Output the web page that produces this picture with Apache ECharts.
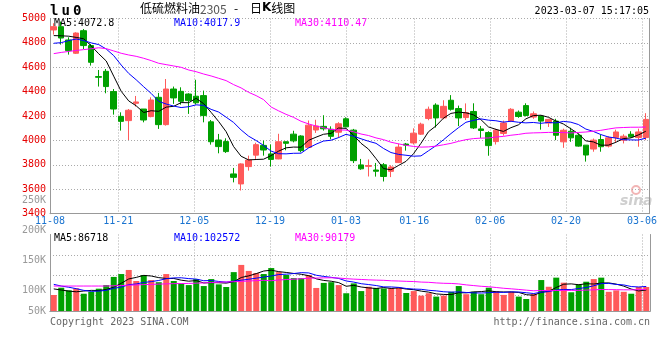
<!DOCTYPE html>
<html><head><meta charset="utf-8">
<script src="https://cdn.jsdelivr.net/npm/echarts@6/dist/echarts.min.js"></script>
<style>html,body{margin:0;padding:0;background:#fff}#c{width:660px;height:360px}</style>
</head><body><div id="c"></div>
<script>
// ---------- data ----------
const symbolCode = 'lu0';
const titleName = '低硫燃料油';
const titleCode = '2305';
const titleKind = '日K线图';
const stampText = '2023-03-07 15:17:05';
const dates = ['11-08','11-09','11-10','11-11','11-14','11-15','11-16','11-17','11-18','11-21','11-22','11-23','11-24','11-25','11-28','11-29','11-30',
'12-01','12-02','12-05','12-06','12-07','12-08','12-09','12-12','12-13','12-14','12-15','12-16','12-19','12-20','12-21','12-22','12-23','12-26','12-27','12-28','12-29','12-30',
'01-03','01-04','01-05','01-06','01-09','01-10','01-11','01-12','01-13','01-16','01-17','01-18','01-19','01-20','01-30','01-31',
'02-01','02-02','02-03','02-06','02-07','02-08','02-09','02-10','02-13','02-14','02-15','02-16','02-17','02-20','02-21','02-22','02-23','02-24','02-27','02-28',
'03-01','03-02','03-03','03-06','03-07'];
const tickLabels = ['11-08','11-21','12-05','12-19','01-03','01-16','02-06','02-20','03-06'];
const opens  = [4906,4933,4824,4715,4900,4778,4524,4567,4401,4198,4163,4305,4258,4196,4354,4130,4422,4403,4381,4363,
                4368,4153,4004,3991,3726,3644,3786,3880,3960,3890,3849,3990,4052,4037,3944,4086,4116,4092,4068,4178,
                4085,3800,3788,3758,3801,3747,3819,3971,3980,4052,4180,4290,4185,4330,4262,4188,4238,4095,4065,3991,
                4058,4160,4232,4286,4192,4200,4143,4159,3989,4076,4043,3962,3930,4008,3954,4024,4003,4051,4024,4024];
const closes = [4933,4840,4737,4881,4778,4641,4518,4442,4258,4157,4248,4316,4168,4332,4130,4422,4349,4321,4327,4309,
                4204,3990,3950,3909,3698,3808,3840,3966,3922,3845,3990,3977,3997,3917,4126,4119,4096,4034,4137,4112,
                3835,3768,3795,3748,3705,3783,3946,3962,4060,4134,4256,4185,4280,4256,4185,4229,4103,4082,3958,4085,
                4144,4256,4197,4205,4219,4159,4173,4043,4084,4022,3954,3881,4003,3949,4022,4070,4035,4030,4070,4173];
const lows   = [4868,4786,4704,4709,4750,4614,4442,4387,4212,4081,4004,4278,4149,4190,4095,4122,4300,4294,4218,4295,
                4149,3966,3895,3898,3657,3590,3753,3849,3876,3786,3846,3920,3985,3903,3939,4062,4081,4010,4022,4108,
                3815,3760,3705,3704,3664,3700,3815,3917,3967,4045,4166,4106,4174,4245,4118,4168,4094,4021,3875,3967,
                4040,4151,4186,4197,4178,4089,4111,4003,3940,3989,3949,3827,3908,3908,3943,3981,3976,4024,3949,4003];
const highs  = [4961,4975,4846,4887,4914,4791,4578,4586,4422,4231,4258,4365,4258,4354,4390,4504,4442,4436,4387,4498,
                4409,4168,4054,4018,3775,3813,3876,3982,3999,3968,4055,3990,4080,4043,4164,4170,4207,4116,4150,4190,
                4095,3849,3845,3816,3815,3797,3975,3980,4100,4146,4278,4305,4330,4372,4286,4304,4305,4119,4076,4096,
                4163,4265,4246,4305,4238,4205,4178,4178,4097,4105,4057,3962,4016,4049,4035,4089,4051,4076,4097,4224];
const volumes = [66700,97000,86000,94600,72000,80400,93000,108000,142000,154000,171000,125000,150000,129000,120000,154000,125000,114000,108000,133000,
                 104000,133000,111000,100000,162000,192000,167000,158000,154000,179000,162000,150000,137000,137000,150000,96000,117000,120000,108000,74000,
                 115000,83000,101000,96000,94000,95000,97000,75000,83000,64000,74000,60000,64000,80000,104000,70000,80000,70000,97000,83000,
                 67000,80000,60000,50000,71000,129000,101000,139000,118000,78000,111000,122000,133000,139000,80000,86000,80000,72000,100000,100000];
// moving-average values before enough history
const ma5Head  = [4860,4858,4855,4845];
const ma10Head = [4797,4802,4819,4832,4819,4800,4786,4750,4696];
const ma30Head = [4712,4722,4730,4738,4745,4752,4760,4753,4734,4715,4701,4690,4674,4655,4633,4622,4611,4600,4578,4564,4545,4529,4510,4491,4458,4431,4395,4368,4335];
const vma5Head  = [92000,87500,83000,80000];
const vma10Head = [111000,104000,99000,93000,86000,82000,83000,86000,94600];
const vma30Head = [104000,104000,104000,104000,104000,104000,104000,104000,105000,106000,107500,108500,110000,111000,112000,113000,114000,114500,115000,116000,117000,118500,120000,121000,122000,123500,125000,126500,128000];
const priceLegend = ['MA5:4072.8','MA10:4017.9','MA30:4110.47'];
const volLegend = ['MA5:86718','MA10:102572','MA30:90179'];
const volLabelValues = [65000,100000,150000,200000,250000];
const volTickLabels = ['50K','100K','150K','200K','250K'];
const copyText = 'Copyright 2023 SINA.COM';
const urlText = 'http://finance.sina.com.cn';
const watermark = 'sina';

// ---------- helpers ----------
function movingAvg(arr, n, head){
  return arr.map((_, i) => {
    if (i < n - 1) return head[i];
    let s = 0; for (let j = i - n + 1; j <= i; j++) s += arr[j];
    return +(s / n).toFixed(2);
  });
}
const UP = '#ff5a5a', DOWN = '#00a000';
const MONO = 'DejaVu Sans Mono';
const isTick = (idx, val) => tickLabels.indexOf(val) >= 0;
const dotted = {color:'#aaa', type:[1,2], width:1};
const ohlc = dates.map((d,i) => [opens[i], closes[i], lows[i], highs[i]]);
const volData = volumes.map((v,i) => ({value:v, itemStyle:{color: closes[i] >= opens[i] ? UP : DOWN}}));
// volume pane: 76.5px tall, 100K ≈ 24px
const volMax = 318750;
const volGridValues = [65400, 148750, 232100];

const chart = echarts.init(document.getElementById('c'), null, {renderer:'canvas'});
const legendText = (arr, top) => [54,174,295].map((x,k) => ({type:'text', left:x, top:top,
  style:{text:arr[k], fill:['#000','#0000ff','#ff00ff'][k], font:'10px "'+MONO+'"'}}));
const lineS = (data, color, xi, yi) => ({type:'line', xAxisIndex:xi, yAxisIndex:yi, data:data, symbol:'none', smooth:false,
  lineStyle:{color:color, width:1}, emphasis:{disabled:true}});

chart.setOption({
  animation:false,
  backgroundColor:'#fff',
  grid:[
    {left:50, right:10, top:18.5, height:195.2},
    {left:50, right:10, top:234.5, height:76.5},
    {left:50, right:10, top:200, height:111}
  ],
  xAxis:[
    {gridIndex:0, type:'category', data:dates, boundaryGap:true, show:false, position:'top'},
    {gridIndex:0, type:'category', data:dates, boundaryGap:false, position:'bottom',
      axisLine:{show:true, lineStyle:{color:'#999'}}, axisTick:{show:false},
      axisLabel:{interval:isTick, color:'#1a74d0', fontFamily:MONO, fontSize:10, margin:3},
      splitLine:{show:true, interval:isTick, lineStyle:dotted}},
    {gridIndex:1, type:'category', data:dates, boundaryGap:true, position:'top',
      axisLine:{show:true, lineStyle:{color:'#999'}}, axisTick:{show:false}, axisLabel:{show:false}, splitLine:{show:false}},
    {gridIndex:1, type:'category', data:dates, boundaryGap:false, position:'bottom',
      axisLine:{show:true, lineStyle:{color:'#999'}}, axisTick:{show:false}, axisLabel:{show:false},
      splitLine:{show:true, interval:isTick, lineStyle:dotted}},
    {gridIndex:2, type:'category', data:dates, show:false}
  ],
  yAxis:[
    {gridIndex:0, type:'value', min:3400, max:5000, interval:200,
      axisLine:{show:true, lineStyle:{color:'#999'}}, axisTick:{show:false},
      axisLabel:{color:'#e60000', fontFamily:MONO, fontSize:10, margin:4, formatter:v => String(v)},
      splitLine:{show:true, lineStyle:dotted}},
    {gridIndex:0, type:'value', position:'right', min:3400, max:5000,
      axisLine:{show:true, lineStyle:{color:'#999'}}, axisTick:{show:false}, axisLabel:{show:false}, splitLine:{show:false}},
    {gridIndex:1, type:'value', min:0, max:volMax,
      axisLine:{show:true, lineStyle:{color:'#999'}}, axisTick:{show:false, customValues:volGridValues}, axisLabel:{show:false},
      splitLine:{show:true, lineStyle:dotted}},
    {gridIndex:1, type:'value', position:'right', min:0, max:volMax,
      axisLine:{show:true, lineStyle:{color:'#999'}}, axisTick:{show:false}, axisLabel:{show:false}, splitLine:{show:false}},
    {gridIndex:2, type:'value', min:65000, max:250000,
      axisLine:{show:false}, axisTick:{show:false}, splitLine:{show:false},
      axisLabel:{customValues:volLabelValues, color:'#999', fontFamily:MONO, fontSize:10, margin:4,
        formatter:v => { const k = volLabelValues.indexOf(v); return k >= 0 ? volTickLabels[k] : ''; }}}
  ],
  series:[
    {type:'candlestick', xAxisIndex:0, yAxisIndex:0, data:ohlc, barWidth:6,
      itemStyle:{color:UP, color0:DOWN, borderColor:UP, borderColor0:DOWN, borderWidth:1}},
    lineS(movingAvg(closes,5,ma5Head), '#000', 0, 0),
    lineS(movingAvg(closes,10,ma10Head), '#0000ff', 0, 0),
    lineS(movingAvg(closes,30,ma30Head), '#ff00ff', 0, 0),
    {type:'bar', xAxisIndex:2, yAxisIndex:2, data:volData, barWidth:6},
    lineS(movingAvg(volumes,5,vma5Head), '#000', 2, 2),
    lineS(movingAvg(volumes,10,vma10Head), '#0000ff', 2, 2),
    lineS(movingAvg(volumes,30,vma30Head), '#ff00ff', 2, 2)
  ],
  graphic:[].concat(
    symbolCode.split('').map((ch,k) => ({type:'text', left:50 + k*11.5, top:4,
      style:{text:ch, fill:'#000', font:'bold 14px "'+MONO+'"'}})),
    [
      {type:'text', left:140, top:2, style:{text:titleName, fill:'#000', font:'12px "Noto Sans CJK SC"'}},
      {type:'text', left:200, top:3, style:{text:titleCode, fill:'#555', font:'12px "Noto Sans CJK SC"'}},
      {type:'text', left:234, top:2, style:{text:'-', fill:'#000', font:'12px "Noto Sans CJK SC"'}},
      {type:'text', left:250, top:2, style:{text:'{a|'+titleKind.slice(0,1)+'}{k|'+titleKind.slice(1,2)+'}{a|'+titleKind.slice(2)+'}',
        rich:{a:{font:'12px "Noto Sans CJK SC"', fill:'#000'}, k:{font:'bold 12px "DejaVu Sans"', fill:'#000'}}}},
      {type:'text', right:11, top:6, style:{text:stampText, fill:'#000', font:'10px "'+MONO+'"'}},
      {type:'text', left:50, top:317, style:{text:copyText, fill:'#666', font:'10px "'+MONO+'"'}},
      {type:'text', right:10, top:317, style:{text:urlText, fill:'#666', font:'10px "'+MONO+'"'}},
      {type:'circle', shape:{cx:636, cy:190, r:4}, style:{fill:'none', stroke:'#f2b5b5', lineWidth:2}},
      {type:'text', left:620, top:194, style:{text:watermark, fill:'#cfcfcf', font:'italic bold 14px "DejaVu Sans"'}}
    ],
    legendText(priceLegend, 18),
    legendText(volLegend, 233)
  )
});
</script></body></html>
